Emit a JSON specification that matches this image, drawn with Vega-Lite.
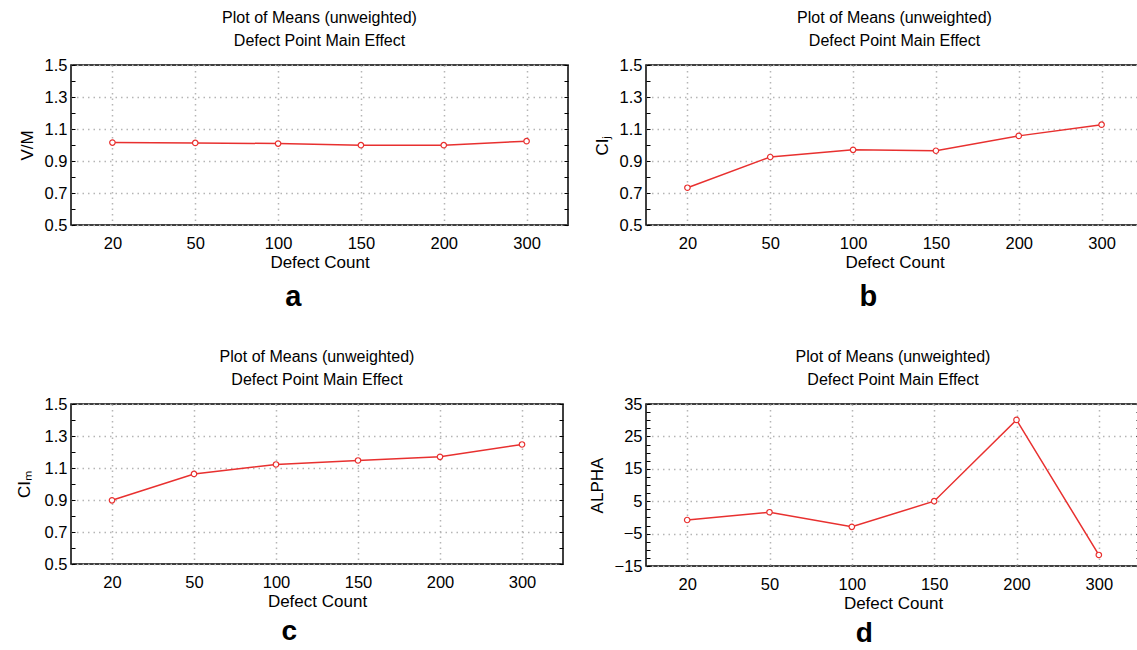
{
  "$schema": "https://vega.github.io/schema/vega-lite/v6.json",
  "background": "white",
  "padding": {"left": 14, "top": 9, "right": 0, "bottom": 0},
  "config": {
    "font": "Liberation Sans",
    "view": {"stroke": "black", "strokeWidth": 1.5},
    "title": {"font": "Liberation Sans", "fontSize": 16, "fontWeight": "normal", "color": "black", "lineHeight": 23},
    "axis": {"labelFont": "Liberation Sans", "titleFont": "Liberation Sans", "labelColor": "black", "titleColor": "black", "labelFontSize": 16.5, "titleFontSize": 17, "titleFontWeight": "normal", "domain": false, "tickColor": "black", "gridDash": [1.5, 4], "gridWidth": 1.5},
    "concat": {"spacing": 22}
  },
  "datasets": {
    "a": [
      {"count": 20, "value": 1.015}, {"count": 50, "value": 1.013}, {"count": 100, "value": 1.009},
      {"count": 150, "value": 0.999}, {"count": 200, "value": 0.999}, {"count": 300, "value": 1.024}
    ],
    "b": [
      {"count": 20, "value": 0.733}, {"count": 50, "value": 0.925}, {"count": 100, "value": 0.970},
      {"count": 150, "value": 0.964}, {"count": 200, "value": 1.057}, {"count": 300, "value": 1.127}
    ],
    "c": [
      {"count": 20, "value": 0.898}, {"count": 50, "value": 1.063}, {"count": 100, "value": 1.122},
      {"count": 150, "value": 1.147}, {"count": 200, "value": 1.170}, {"count": 300, "value": 1.247}
    ],
    "d": [
      {"count": 20, "value": -0.8}, {"count": 50, "value": 1.6}, {"count": 100, "value": -2.9},
      {"count": 150, "value": 5.0}, {"count": 200, "value": 30.1}, {"count": 300, "value": -11.6}
    ]
  },
  "vconcat": [
    {
      "hconcat": [
        {
          "title": {"text": "a", "orient": "bottom", "anchor": "middle", "fontSize": 29, "fontWeight": "bold", "offset": 12},
          "vconcat": [
            {
              "title": {"text": ["Plot of Means (unweighted)", "Defect Point Main Effect"], "offset": 8},
              "width": 497, "height": 160,
              "data": {"name": "a"},
              "encoding": {
                "x": {"field": "count", "type": "ordinal", "title": "Defect Count",
                      "axis": {"labelAngle": 0, "grid": true, "ticks": false, "labelPadding": 10, "titlePadding": 3, "gridColor": "#b5b5b5"}}
              },
              "layer": [
                {
                  "mark": {"type": "line", "color": "#e8302f", "strokeWidth": 1.5},
                  "encoding": {"y": {"field": "value", "type": "quantitative", "title": "V/M",
                    "scale": {"domain": [0.5, 1.5], "nice": false, "zero": false},
                    "axis": {"orient": "left", "values": [0.5,0.6,0.7,0.8,0.9,1.0,1.1,1.2,1.3,1.4,1.5],
                      "labelExpr": "round(datum.value*10)%2==1 ? format(datum.value, '.1f') : ''",
                      "tickSize": -4, "labelPadding": 8, "titlePadding": 8,
                      "gridColor": {"condition": {"test": "round(datum.value*10)%2==1", "value": "#b5b5b5"}, "value": "transparent"}}}}
                },
                {
                  "mark": {"type": "point", "shape": "circle", "filled": true, "fill": "white", "stroke": "#e8302f", "strokeWidth": 1.2, "size": 30, "opacity": 1},
                  "encoding": {"y": {"field": "value", "type": "quantitative",
                    "axis": {"orient": "right", "values": [0.5,0.6,0.7,0.8,0.9,1.0,1.1,1.2,1.3,1.4,1.5], "labels": false, "tickSize": -4, "grid": false, "title": null}}}
                }
              ],
              "resolve": {"axis": {"y": "independent"}}
            }
          ]
        },
        {
          "title": {"text": "b", "orient": "bottom", "anchor": "middle", "fontSize": 29, "fontWeight": "bold", "offset": 12},
          "vconcat": [
            {
              "title": {"text": ["Plot of Means (unweighted)", "Defect Point Main Effect"], "offset": 8},
              "width": 497, "height": 160,
              "data": {"name": "b"},
              "encoding": {
                "x": {"field": "count", "type": "ordinal", "title": "Defect Count",
                      "axis": {"labelAngle": 0, "grid": true, "ticks": false, "labelPadding": 10, "titlePadding": 3, "gridColor": "#b5b5b5"}}
              },
              "layer": [
                {
                  "mark": {"type": "line", "color": "#e8302f", "strokeWidth": 1.5},
                  "encoding": {"y": {"field": "value", "type": "quantitative", "title": "CIⱼ",
                    "scale": {"domain": [0.5, 1.5], "nice": false, "zero": false},
                    "axis": {"orient": "left", "values": [0.5,0.6,0.7,0.8,0.9,1.0,1.1,1.2,1.3,1.4,1.5],
                      "labelExpr": "round(datum.value*10)%2==1 ? format(datum.value, '.1f') : ''",
                      "tickSize": -4, "labelPadding": 8, "titlePadding": 8,
                      "gridColor": {"condition": {"test": "round(datum.value*10)%2==1", "value": "#b5b5b5"}, "value": "transparent"}}}}
                },
                {
                  "mark": {"type": "point", "shape": "circle", "filled": true, "fill": "white", "stroke": "#e8302f", "strokeWidth": 1.2, "size": 30, "opacity": 1},
                  "encoding": {"y": {"field": "value", "type": "quantitative",
                    "axis": {"orient": "right", "values": [0.5,0.6,0.7,0.8,0.9,1.0,1.1,1.2,1.3,1.4,1.5], "labels": false, "tickSize": -4, "grid": false, "title": null}}}
                }
              ],
              "resolve": {"axis": {"y": "independent"}}
            }
          ]
        }
      ]
    },
    {
      "hconcat": [
        {
          "title": {"text": "c", "orient": "bottom", "anchor": "middle", "fontSize": 28, "fontWeight": "bold", "offset": 8},
          "vconcat": [
            {
              "title": {"text": ["Plot of Means (unweighted)", "Defect Point Main Effect"], "offset": 8},
              "width": 492, "height": 160,
              "data": {"name": "c"},
              "encoding": {
                "x": {"field": "count", "type": "ordinal", "title": "Defect Count",
                      "axis": {"labelAngle": 0, "grid": true, "ticks": false, "labelPadding": 10, "titlePadding": 3, "gridColor": "#b5b5b5"}}
              },
              "layer": [
                {
                  "mark": {"type": "line", "color": "#e8302f", "strokeWidth": 1.5},
                  "encoding": {"y": {"field": "value", "type": "quantitative", "title": "CIₘ",
                    "scale": {"domain": [0.5, 1.5], "nice": false, "zero": false},
                    "axis": {"orient": "left", "values": [0.5,0.6,0.7,0.8,0.9,1.0,1.1,1.2,1.3,1.4,1.5],
                      "labelExpr": "round(datum.value*10)%2==1 ? format(datum.value, '.1f') : ''",
                      "tickSize": -4, "labelPadding": 8, "titlePadding": 11,
                      "gridColor": {"condition": {"test": "round(datum.value*10)%2==1", "value": "#b5b5b5"}, "value": "transparent"}}}}
                },
                {
                  "mark": {"type": "point", "shape": "circle", "filled": true, "fill": "white", "stroke": "#e8302f", "strokeWidth": 1.2, "size": 30, "opacity": 1},
                  "encoding": {"y": {"field": "value", "type": "quantitative",
                    "axis": {"orient": "right", "values": [0.5,0.6,0.7,0.8,0.9,1.0,1.1,1.2,1.3,1.4,1.5], "labels": false, "tickSize": -4, "grid": false, "title": null}}}
                }
              ],
              "resolve": {"axis": {"y": "independent"}}
            }
          ]
        },
        {
          "title": {"text": "d", "orient": "bottom", "anchor": "middle", "fontSize": 28, "fontWeight": "bold", "offset": 8},
          "vconcat": [
            {
              "title": {"text": ["Plot of Means (unweighted)", "Defect Point Main Effect"], "offset": 8},
              "width": 494, "height": 162,
              "data": {"name": "d"},
              "encoding": {
                "x": {"field": "count", "type": "ordinal", "title": "Defect Count",
                      "axis": {"labelAngle": 0, "grid": true, "ticks": false, "labelPadding": 10, "titlePadding": 3, "gridColor": "#b5b5b5"}}
              },
              "layer": [
                {
                  "mark": {"type": "line", "color": "#e8302f", "strokeWidth": 1.5},
                  "encoding": {"y": {"field": "value", "type": "quantitative", "title": "ALPHA",
                    "scale": {"domain": [-15, 35], "nice": false, "zero": false},
                    "axis": {"orient": "left", "values": [-15,-12.5,-10,-7.5,-5,-2.5,0,2.5,5,7.5,10,12.5,15,17.5,20,22.5,25,27.5,30,32.5,35],
                      "labelExpr": "(datum.value+15)%10==0 ? format(datum.value, 'd') : ''",
                      "tickSize": -4, "labelPadding": 8, "titlePadding": 8,
                      "gridColor": {"condition": {"test": "(datum.value+15)%10==0", "value": "#b5b5b5"}, "value": "transparent"}}}}
                },
                {
                  "mark": {"type": "point", "shape": "circle", "filled": true, "fill": "white", "stroke": "#e8302f", "strokeWidth": 1.2, "size": 30, "opacity": 1},
                  "encoding": {"y": {"field": "value", "type": "quantitative",
                    "axis": {"orient": "right", "values": [-15,-12.5,-10,-7.5,-5,-2.5,0,2.5,5,7.5,10,12.5,15,17.5,20,22.5,25,27.5,30,32.5,35], "labels": false, "tickSize": -4, "grid": false, "title": null}}}
                }
              ],
              "resolve": {"axis": {"y": "independent"}}
            }
          ]
        }
      ]
    }
  ],
  "spacing": 35
}
